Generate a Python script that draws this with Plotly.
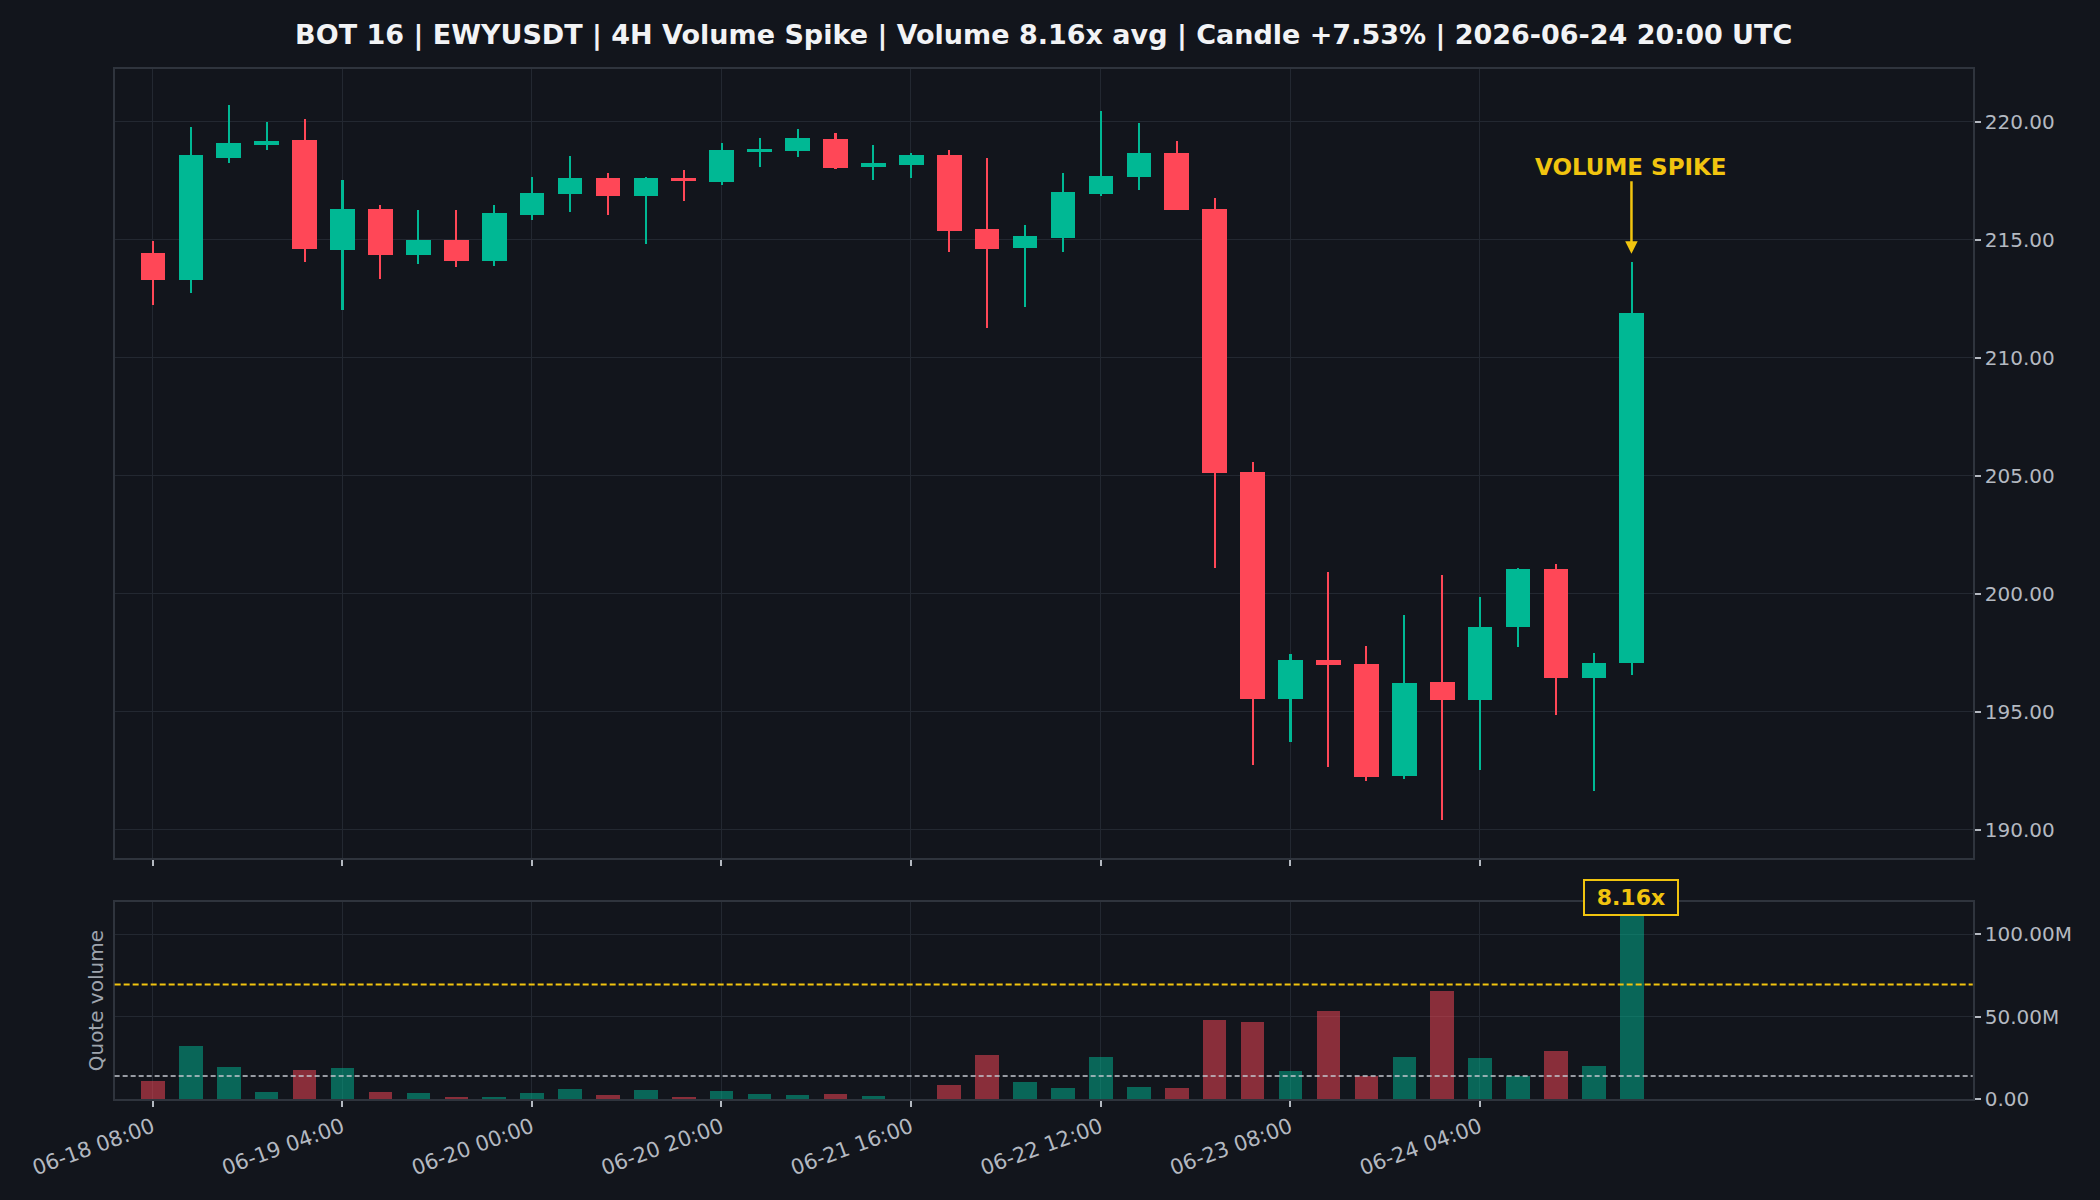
import pandas as pd
import plotly.graph_objects as go

# ---------------- data ----------------
start_time = "2026-06-18 08:00"
n_candles = 40

opens = [214.42, 213.31, 218.47, 219.03, 219.22, 214.58, 216.30, 214.37, 215.00, 214.11,
         216.06, 216.95, 217.60, 216.86, 217.60, 217.46, 218.73, 218.74, 219.25, 218.07,
         218.18, 218.57, 215.44, 214.66, 215.09, 216.95, 217.67, 218.67, 216.28, 205.15,
         195.55, 197.19, 197.04, 192.26, 196.27, 195.51, 198.57, 201.03, 196.42, 197.06]
highs = [214.95, 219.77, 220.71, 219.99, 220.10, 217.53, 216.47, 216.26, 216.26, 216.47,
         217.66, 218.55, 217.83, 217.64, 217.95, 219.08, 219.30, 219.68, 219.52, 219.01,
         218.67, 218.80, 218.45, 215.62, 217.81, 220.45, 219.95, 219.18, 216.78, 205.57,
         197.45, 200.91, 197.78, 199.09, 200.79, 199.87, 201.08, 201.26, 197.48, 214.05]
lows = [212.23, 212.76, 218.26, 218.80, 214.06, 212.04, 213.35, 213.98, 213.86, 213.90,
        215.84, 216.19, 216.05, 214.83, 216.64, 217.33, 218.08, 218.52, 218.01, 217.54,
        217.61, 214.49, 211.27, 212.16, 214.49, 216.87, 217.12, 216.27, 201.07, 192.76,
        193.73, 192.67, 192.07, 192.16, 190.40, 192.51, 197.74, 194.87, 191.64, 196.56]
closes = [213.31, 218.57, 219.10, 219.18, 214.62, 216.30, 214.37, 215.00, 214.11, 216.12,
          216.96, 217.60, 216.86, 217.60, 217.47, 218.79, 218.83, 219.30, 218.05, 218.24,
          218.57, 215.38, 214.62, 215.16, 217.00, 217.68, 218.67, 216.27, 205.13, 195.55,
          197.19, 196.98, 192.22, 196.21, 195.51, 198.59, 201.03, 196.42, 197.08, 211.90]
# quote volume, millions
volumes_m = [11.3, 32.1, 19.6, 4.2, 17.9, 19.0, 4.2, 3.6, 1.2, 1.2,
             3.6, 6.0, 2.4, 5.4, 1.2, 4.8, 3.0, 2.4, 3.0, 1.8,
             0.4, 8.9, 27.0, 10.3, 6.7, 25.4, 7.3, 6.7, 48.4, 47.2,
             16.9, 53.8, 13.9, 25.4, 65.9, 24.8, 13.9, 29.6, 20.0, 113.4]
avg_volume_m = 13.9
spike_threshold_mult = 5.0
spike_ratio_label = "8.16x"
vol_tick_vals = [0, 50, 100]
vol_tick_text = ["0.00", "50.00M", "100.00M"]
title_text = "BOT 16 | EWYUSDT | 4H Volume Spike | Volume 8.16x avg | Candle +7.53% | 2026-06-24 20:00 UTC"

# ---------------- styling ----------------
BG = "#12151c"
GRID = "#232831"
FRAME = "#2f343d"
TICK = "#b4b9c1"
GREEN = "#00b894"
RED = "#ff4757"
GREEN_DIM = "rgba(0,184,148,0.5)"
RED_DIM = "rgba(255,71,87,0.5)"
YELLOW = "#f1c40f"
FONT = "DejaVu Sans"

times = pd.date_range(start_time, periods=n_candles, freq="4h")
step_ms = 4 * 3600 * 1000
up = [c >= o for o, c in zip(opens, closes)]
col = [GREEN if u else RED for u in up]
col_dim = [GREEN_DIM if u else RED_DIM for u in up]

fig = go.Figure()
# wicks
fig.add_trace(go.Bar(
    x=times, y=[h - l for h, l in zip(highs, lows)], base=lows,
    width=step_ms * 0.055, marker=dict(color=col, line=dict(width=0)),
    xaxis="x", yaxis="y", showlegend=False, hoverinfo="skip"))
# bodies
fig.add_trace(go.Bar(
    x=times, y=[max(abs(c - o), 0.06) for o, c in zip(opens, closes)],
    base=[min(o, c) for o, c in zip(opens, closes)],
    width=step_ms * 0.65, marker=dict(color=col, line=dict(width=0)),
    xaxis="x", yaxis="y", showlegend=False))
# volume
fig.add_trace(go.Bar(
    x=times, y=volumes_m, width=step_ms * 0.62,
    marker=dict(color=col_dim, line=dict(width=0)),
    xaxis="x2", yaxis="y2", showlegend=False))

x_range = [times[0] - pd.Timedelta(hours=4), times[0] + pd.Timedelta(hours=4 * 48)]
xdom = [0.0546, 0.9394]
axis_common = dict(showgrid=True, gridcolor=GRID, gridwidth=1, showline=True, mirror=True,
                   linecolor=FRAME, linewidth=2, zeroline=False, ticks="outside", ticklen=6,
                   tickwidth=1.5, tickcolor=TICK, automargin=False,
                   tickfont=dict(family=FONT, size=20, color=TICK))

fig.update_layout(
    width=2100, height=1200,
    margin=dict(l=0, r=0, t=0, b=0, autoexpand=False),
    paper_bgcolor=BG, plot_bgcolor=BG,
    barmode="overlay", bargap=0,
    font=dict(family=FONT, color=TICK),
    title=dict(text="<b>" + title_text + "</b>", x=0.497, xanchor="center",
               y=0.971, yanchor="middle",
               font=dict(family=FONT, size=27, color="#f2f3f5")),
    xaxis=dict(domain=xdom, anchor="y", range=x_range, tickvals=list(times[::5]),
               showticklabels=False, **axis_common),
    yaxis=dict(domain=[0.285, 0.9425], anchor="x", side="right", range=[188.8, 222.23],
               tick0=190, dtick=5, tickformat=".2f", **axis_common),
    xaxis2=dict(domain=xdom, anchor="y2", matches="x", range=x_range,
                tickvals=list(times[::5]), tickformat="%m-%d %H:%M", tickangle=-20,
                **{**axis_common, "tickfont": dict(family=FONT, size=21, color=TICK)}),
    yaxis2=dict(domain=[0.0842, 0.2486], anchor="x2", side="right", range=[0, 119.8],
                tickvals=vol_tick_vals, ticktext=vol_tick_text, **axis_common),
)

# average and threshold lines
fig.add_shape(type="line", xref="x2 domain", yref="y2", x0=0, x1=1,
              y0=avg_volume_m, y1=avg_volume_m,
              line=dict(color="#c4c8cf", width=1.6, dash="5px,3px"))
fig.add_shape(type="line", xref="x2 domain", yref="y2", x0=0, x1=1,
              y0=avg_volume_m * spike_threshold_mult, y1=avg_volume_m * spike_threshold_mult,
              line=dict(color=YELLOW, width=2.2, dash="6px,3px"))

last = n_candles - 1
fig.add_annotation(x=times[last], y=highs[last] + 0.35, xref="x", yref="y",
                   text="<b>VOLUME SPIKE</b>", showarrow=True, arrowhead=2, arrowsize=1,
                   arrowwidth=2.5, arrowcolor=YELLOW, ax=0, ay=-87, standoff=0,
                   font=dict(family=FONT, size=23, color=YELLOW))
fig.add_annotation(x=times[last], y=1.019, xref="x2", yref="y2 domain",
                   xanchor="center", yanchor="middle",
                   text="<b>&nbsp;" + spike_ratio_label + "&nbsp;</b>", showarrow=False,
                   font=dict(family=FONT, size=22, color=YELLOW),
                   bgcolor=BG, bordercolor=YELLOW, borderwidth=2, borderpad=4)
fig.add_annotation(x=0.0457, y=0.1664, xref="paper", yref="paper", text="Quote volume",
                   xanchor="center", yanchor="middle",
                   showarrow=False, textangle=-90,
                   font=dict(family=FONT, size=20, color="#9ea4ad"))

fig.write_html("out.html")
